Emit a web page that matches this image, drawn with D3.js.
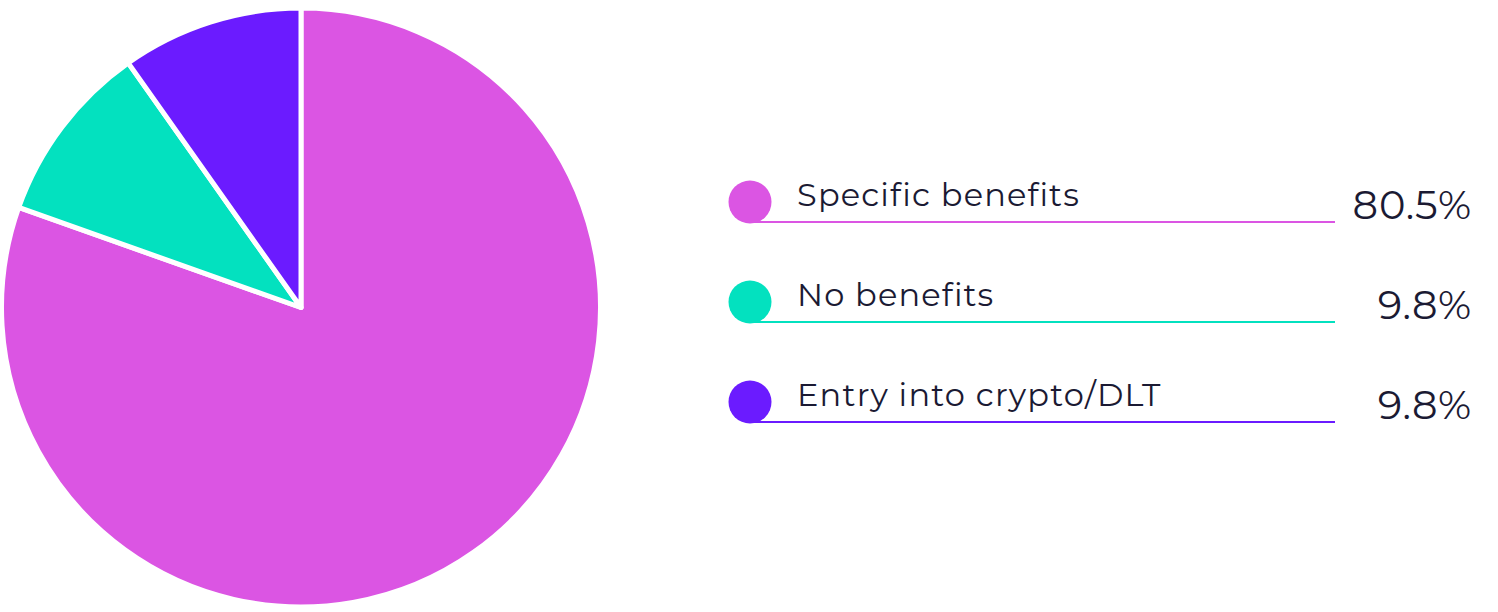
<!DOCTYPE html>
<html><head><meta charset="utf-8">
<script src="https://cdn.jsdelivr.net/npm/d3@7"></script>
<style>body{margin:0;background:#fff}svg{display:block}</style>
</head><body>
<svg id="c" width="1498" height="612"></svg>
<script>
const categories = ["Specific benefits", "No benefits", "Entry into crypto/DLT"];
const values = [80.5, 9.8, 9.8];
const valueLabels = ["80.5%", "9.8%", "9.8%"];
const colors = ["#db55e3", "#03e1bf", "#6b1bff"];

const svg = d3.select("#c");
const data = categories.map((c, i) => ({name: c, value: values[i], label: valueLabels[i], color: colors[i]}));

const cx = 301, cy = 307.5, r = 299.5;
const pie = d3.pie().value(d => d.value).sort(null);
const arc = d3.arc().innerRadius(0).outerRadius(r);
svg.append("g").attr("transform", `translate(${cx},${cy})`)
  .selectAll("path").data(pie(data)).join("path")
  .attr("d", arc).attr("fill", d => d.data.color)
  .attr("stroke", "#fff").attr("stroke-width", 5).attr("stroke-linejoin", "round");

const y = d3.scalePoint().domain(categories).range([202, 402]);
const font = "Montserrat, 'Open Sans', sans-serif";
const lg = svg.append("g").selectAll("g").data(data).join("g")
  .attr("transform", d => `translate(0,${y(d.name)})`);
lg.append("line").attr("x1", 752).attr("x2", 1335).attr("y1", 20).attr("y2", 20)
  .attr("stroke", d => d.color).attr("stroke-width", 2);
lg.append("circle").attr("cx", 750).attr("cy", 0).attr("r", 21.5).attr("fill", d => d.color);
lg.append("text").attr("x", 797).attr("y", 4).attr("font-family", font).attr("font-size", 32)
  .attr("letter-spacing", 1.2).attr("fill", "#1b1a33").text(d => d.name);
lg.append("text").attr("x", 1472).attr("y", 17).attr("text-anchor", "end").attr("font-family", font)
  .attr("font-size", 40).attr("letter-spacing", 0.8).attr("fill", "#1b1a33").text(d => d.label);
</script>
</body></html>
